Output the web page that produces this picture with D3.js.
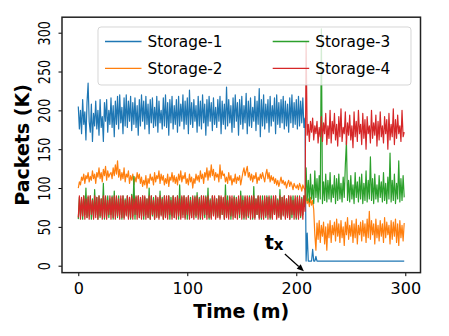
<!DOCTYPE html>
<html><head><meta charset="utf-8">
<script src="https://cdn.jsdelivr.net/npm/d3@7/dist/d3.min.js"></script>
<style>html,body{margin:0;padding:0;background:#fff;}svg{display:block;font-family:"DejaVu Sans",sans-serif;}</style>
</head><body>
<svg id="chart" width="449" height="336"></svg>
<script>
const seriesNames = ["Storage-1","Storage-2","Storage-3","Storage-4"];
const seriesColors = ["#1f77b4","#ff7f0e","#2ca02c","#d62728"];
const xTicks = [0,100,200,300];
const yTicks = [0,50,100,150,200,250,300];
const xLabel = "Time (m)";
const yLabel = "Packets (K)";

const storage1 = [
205,176,200,170,214,182,198,162,210,235,
185,172,208,160,196,180,212,176,200,168,
214,178,192,160,210,186,214,172,200,182,
216,178,206,166,212,182,218,176,220,184,
204,170,216,180,220,178,212,186,218,174,
210,182,216,178,206,168,214,180,220,186,
212,176,218,182,208,170,214,184,216,178,
204,180,218,172,212,184,200,176,216,180,
220,178,210,168,214,184,218,176,206,182,
214,172,218,180,208,186,220,176,212,182,
216,170,226,182,210,178,214,186,206,172,
218,180,212,176,220,184,208,168,214,180,
218,186,210,174,216,182,204,178,214,186,
218,170,212,182,208,176,230,180,214,184,
206,172,216,178,220,186,210,168,214,182,
218,176,206,184,222,170,212,180,216,178,
204,186,218,174,212,182,228,166,214,180,
220,176,208,184,214,172,218,180,206,186,
216,170,220,182,210,178,214,184,218,176,
212,180,208,172,216,184,220,178,210,182,
214,176,218,180,212,184,216,178,190,
6,42,6,6,6,6,21,6,6,12,
6,6,6,6,6,6,6,6,6,6,
6,6,6,6,6,6,6,6,6,6,
6,6,6,6,6,6,6,6,6,6,
6,6,6,6,6,6,6,6,6,6,
6,6,6,6,6,6,6,6,6,6,
6,6,6,6,6,6,6,6,6,6,
6,6,6,6,6,6,6,6,6,6,
6,6,6,6,6,6,6,6,6,6,
6];

const storage2 = [
100,108,104,114,110,118,106,116,112,120,
108,115,110,122,112,118,106,120,114,126,
112,120,108,124,116,128,110,122,114,118,
120,112,126,116,130,118,135,114,124,110,
120,112,126,108,118,114,122,106,116,110,
118,104,114,108,120,112,118,106,114,102,
110,104,116,100,112,106,118,110,114,104,
120,108,116,112,122,106,118,110,116,104,
112,106,118,102,114,110,120,108,116,106,
114,104,118,110,122,108,116,112,120,106,
112,104,118,108,114,100,112,106,118,110,
116,108,122,112,118,106,120,114,126,110,
122,114,130,116,124,110,120,114,118,108,
130,112,122,116,118,108,114,106,120,110,
116,104,112,108,118,106,114,110,116,104,
112,120,126,116,122,128,114,120,110,118,
108,116,112,120,106,114,110,118,112,120,
114,108,118,124,112,120,108,116,110,114,
106,112,104,110,102,108,114,106,110,104,
108,100,106,110,102,108,104,98,106,102,
100,104,98,106,102,96,104,100,98,
89,80,86,76,88,78,84,72,40,20,
55,34,58,30,52,38,56,28,50,20,
54,36,58,30,52,40,56,32,60,38,
54,30,58,36,50,26,56,40,62,34,
52,38,58,30,54,36,60,28,52,40,
56,32,58,38,54,30,60,36,70,34,
58,40,54,28,60,36,52,32,58,38,
54,30,62,36,56,40,52,28,58,34,
56,38,60,30,54,26,58,36,52,32,
55];

const storage3 = [
60,88,64,86,60,90,66,100,62,88,
64,90,60,86,62,98,66,88,60,90,
62,86,64,106,60,88,64,90,62,86,
66,90,60,96,64,88,62,90,66,86,
60,90,62,86,66,90,62,88,60,92,
64,115,60,88,66,90,62,86,64,90,
60,88,66,86,62,100,60,90,64,88,
60,90,64,86,62,96,66,88,60,90,
62,86,66,90,60,88,64,90,62,86,
66,90,60,104,62,88,66,90,62,86,
60,90,64,88,62,86,66,90,62,94,
66,88,60,90,64,86,62,90,66,100,
60,86,62,90,66,88,62,86,64,90,
62,88,66,86,60,104,62,90,66,88,
60,86,64,90,62,88,66,86,62,96,
66,90,60,88,64,86,62,90,66,88,
60,102,62,86,66,90,62,88,60,90,
64,86,62,90,66,88,60,90,62,86,
66,90,62,86,64,98,60,88,66,90,
62,86,64,90,60,88,62,90,66,86,
60,90,64,86,62,88,66,90,80,
126,84,110,82,118,86,104,80,122,88,
112,82,116,86,305,80,108,84,118,82,
110,86,120,82,104,88,116,80,112,84,
118,86,106,82,114,88,130,160,84,110,
82,116,86,104,80,120,88,108,82,114,
86,118,80,106,84,122,82,110,86,140,
84,112,80,118,86,104,82,116,88,108,
82,120,84,106,80,114,86,145,82,110,
84,118,80,106,86,135,82,112,84,116,
88];

const storage4 = [
62,90,60,88,64,90,60,86,62,90,
60,90,66,84,60,90,62,88,60,90,
64,86,60,90,62,90,60,84,66,90,
60,88,62,90,60,90,64,86,60,90,
62,90,60,84,64,90,60,88,62,90,
60,86,66,90,60,90,62,88,60,90,
64,90,60,86,62,90,60,90,66,84,
60,90,62,88,60,90,64,86,60,90,
62,90,60,90,66,84,60,90,62,88,
60,90,64,86,60,90,62,90,60,88,
66,90,60,84,62,90,60,88,64,90,
60,86,62,90,60,90,66,88,60,90,
62,84,60,90,64,90,60,86,62,90,
60,90,66,88,60,90,62,84,60,90,
64,90,60,88,62,86,60,90,66,90,
60,84,62,90,60,90,64,88,60,90,
62,90,60,86,66,90,60,90,62,84,
60,90,64,88,60,90,62,86,60,90,
66,90,60,84,62,90,60,88,64,90,
60,86,62,90,60,90,66,84,60,90,
62,88,60,90,64,86,60,90,70,
288,168,182,160,186,172,190,162,180,170,
186,158,178,166,192,160,184,170,196,156,
180,164,200,158,186,170,196,162,182,154,
192,166,202,160,178,170,198,156,184,168,
194,162,180,152,198,166,186,160,200,170,
182,156,196,164,188,150,192,170,180,158,
200,164,184,168,194,154,186,162,198,166,
180,158,192,170,188,150,196,162,182,166,
202,156,188,164,194,170,180,160,200,166,
172];

const seriesValues = [storage1, storage2, storage3, storage4];
// annotation (data coordinates)
const annotText = ["t","x"];
const annotTextPos = [171, 21];
const annotArrowFrom = [189.5, 15];
const annotArrowTo = [207, -7];

const svg = d3.select("#chart");
const L = 62, R = 420.5, T = 17.2, B = 272.65;
const nPts = storage1.length;
const x = d3.scaleLinear().domain([-0.05*(nPts-1), (nPts-1)*1.05]).range([L, R]);
const allV = seriesValues.flat();
const vmin = d3.min(allV), vmax = d3.max(allV), vr = vmax - vmin;
const y = d3.scaleLinear().domain([vmin - 0.05*vr, vmax + 0.05*vr]).range([B, T]);

svg.append("defs").append("clipPath").attr("id","clip")
  .append("rect").attr("x",L).attr("y",T).attr("width",R-L).attr("height",B-T);

const line = d3.line().x((d,i)=>x(i)).y(d=>y(d));
const g = svg.append("g").attr("clip-path","url(#clip)");
seriesValues.forEach((vals,k)=>{
  g.append("path").datum(vals).attr("d",line)
    .attr("fill","none").attr("stroke",seriesColors[k])
    .attr("stroke-width",1.2).attr("stroke-linejoin","round");
});

// axes
const xAxis = svg.append("g").attr("transform",`translate(0,${B})`)
  .call(d3.axisBottom(x).tickValues(xTicks).tickSize(3.5).tickPadding(6).tickFormat(d3.format("d")));
xAxis.select(".domain").remove();
xAxis.selectAll("line").attr("stroke","#000").attr("stroke-width",1);
xAxis.selectAll("text").attr("font-size",16).attr("fill","#000")
  .attr("font-family","DejaVu Sans");

const yAxis = svg.append("g").attr("transform",`translate(${L},0)`)
  .call(d3.axisLeft(y).tickValues(yTicks).tickSize(3.5).tickFormat(d3.format("d")));
yAxis.select(".domain").remove();
yAxis.selectAll("line").attr("stroke","#000").attr("stroke-width",1);
yAxis.selectAll("text").remove();
yAxis.selectAll(".tick").append("text")
  .attr("transform","translate(-12,0) rotate(-90) scale(0.8,1)")
  .attr("text-anchor","middle").attr("font-size",16).attr("fill","#000")
  .attr("font-family","DejaVu Sans")
  .text(d=>d);

// spines
svg.append("rect").attr("x",L).attr("y",T).attr("width",R-L).attr("height",B-T)
  .attr("fill","none").attr("stroke","#222").attr("stroke-width",1.5);

// labels
svg.append("text").attr("x",(L+R)/2).attr("y",318).attr("text-anchor","middle")
  .attr("font-size",19).attr("font-weight","bold").text(xLabel);
svg.append("text").attr("transform",`translate(29,${(T+B)/2}) rotate(-90)`)
  .attr("text-anchor","middle").attr("font-size",19).attr("font-weight","bold").text(yLabel);

// legend
const lg = svg.append("g");
lg.append("rect").attr("x",98).attr("y",27).attr("width",313).attr("height",58).attr("rx",3)
  .attr("fill","#fff").attr("fill-opacity",0.8).attr("stroke","#cccccc").attr("stroke-opacity",0.8).attr("stroke-width",1);
const legPos = [[105,41.5],[105,68.3],[272.7,41.5],[272.7,68.3]];
seriesNames.forEach((n,k)=>{
  const [lx,ly] = legPos[k];
  lg.append("line").attr("x1",lx).attr("x2",lx+36.5).attr("y1",ly).attr("y2",ly)
    .attr("stroke",seriesColors[k]).attr("stroke-width",1.3);
  lg.append("text").attr("x",lx+42.5).attr("y",ly+5.5).attr("font-size",15.3).attr("fill","#000").text(n);
});

// annotation
const at = svg.append("text").attr("x",x(annotTextPos[0])).attr("y",y(annotTextPos[1]))
  .attr("font-weight","bold").attr("fill","#000");
at.append("tspan").attr("font-size",19).text(annotText[0]);
at.append("tspan").attr("font-size",15).attr("dy",1).text(annotText[1]);
const ax1 = x(annotArrowFrom[0]), ay1 = y(annotArrowFrom[1]);
const ax2 = x(annotArrowTo[0]), ay2 = y(annotArrowTo[1]);
const ang = Math.atan2(ay2-ay1, ax2-ax1);
const hl = 7, hw = 3;
const bx = ax2 - hl*Math.cos(ang), by = ay2 - hl*Math.sin(ang);
svg.append("line").attr("x1",ax1).attr("y1",ay1).attr("x2",bx).attr("y2",by)
  .attr("stroke","#000").attr("stroke-width",1.2);
svg.append("path").attr("d",
  `M${ax2},${ay2}L${bx + hw*Math.sin(ang)},${by - hw*Math.cos(ang)}L${bx - hw*Math.sin(ang)},${by + hw*Math.cos(ang)}Z`)
  .attr("fill","#000");
</script>
</body></html>
